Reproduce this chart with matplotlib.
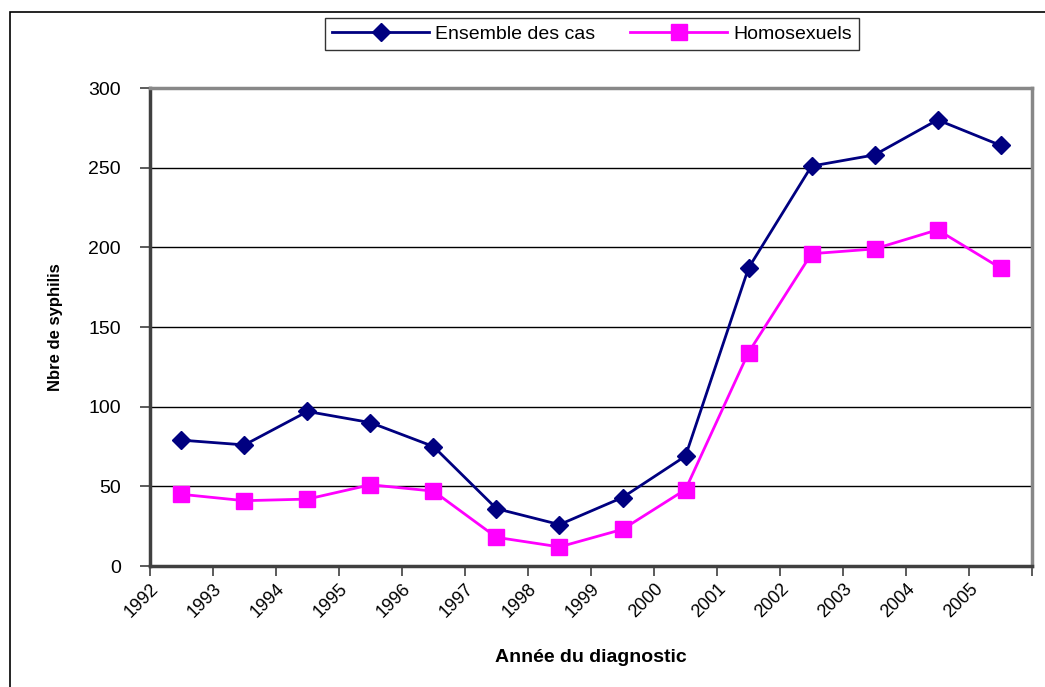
import matplotlib.pyplot as plt
import matplotlib.transforms as mtransforms
from matplotlib.patches import Rectangle
import numpy as np

plt.rcParams['font.family'] = ['Liberation Sans', 'DejaVu Sans']

annees = [1992, 1993, 1994, 1995, 1996, 1997, 1998, 1999, 2000, 2001, 2002, 2003, 2004, 2005]
ensemble = [79, 76, 97, 90, 75, 36, 26, 43, 69, 187, 251, 258, 280, 264]
homosexuels = [45, 41, 42, 51, 47, 18, 12, 23, 48, 134, 196, 199, 211, 187]
yticks = [0, 50, 100, 150, 200, 250, 300]


def main():
    fig = plt.figure(figsize=(10.45, 6.87), dpi=100)
    ax = fig.add_axes([0.1435, 0.1761, 0.8441, 0.6958])

    # cadre exterieur
    fig.patches.append(Rectangle((10 / 1045, -0.02), 1.1, 1 - 12 / 687 + 0.02,
                                 transform=fig.transFigure, fill=False,
                                 edgecolor='black', linewidth=1.2))

    x = np.arange(len(annees)) + 0.5
    ax.plot(x, ensemble, color='#000080', linewidth=2, marker='D', markersize=9,
            label='Ensemble des cas', zorder=3)
    ax.plot(x, homosexuels, color='#FF00FF', linewidth=2, marker='s', markersize=12,
            label='Homosexuels', zorder=3)

    ax.set_xlim(0, len(annees))
    ax.set_ylim(0, 300)
    ax.set_yticks(yticks)
    ax.set_yticklabels([str(v) for v in yticks], fontsize=14)
    ax.set_xticks(np.arange(len(annees) + 1))
    ax.set_xticklabels([str(a) for a in annees] + [''], rotation=45, ha='right',
                       va='top', rotation_mode='anchor', fontsize=13)
    offset = mtransforms.ScaledTranslation(9 / 100, -12 / 100, fig.dpi_scale_trans)
    for lab in ax.get_xticklabels():
        lab.set_transform(lab.get_transform() + offset)

    ax.tick_params(axis='both', direction='out', length=7, width=1.2, color='#404040')
    ax.tick_params(axis='y', pad=14)

    for v in yticks[1:-1]:
        ax.axhline(v, color='black', linewidth=1, zorder=1)

    ax.spines['left'].set_color('#404040')
    ax.spines['bottom'].set_color('#404040')
    ax.spines['left'].set_linewidth(2.5)
    ax.spines['bottom'].set_linewidth(2.5)
    ax.spines['top'].set_color('#888888')
    ax.spines['right'].set_color('#888888')
    ax.spines['top'].set_linewidth(2.5)
    ax.spines['right'].set_linewidth(2.5)

    ax.set_ylabel('Nbre de syphilis', fontsize=12, fontweight='bold', labelpad=18)
    ax.set_xlabel('Année du diagnostic', fontsize=14, fontweight='bold', labelpad=20)

    leg = fig.legend(loc='center', bbox_to_anchor=(592 / 1045, 1 - 34 / 687), ncol=2,
                     fontsize=14, frameon=True, fancybox=False, edgecolor='black',
                     handlelength=5, columnspacing=1.8, handletextpad=0.3,
                     borderpad=0.35)
    leg.get_frame().set_linewidth(1)

    fig.savefig('out.png', dpi=100)


if __name__ == '__main__':
    main()
